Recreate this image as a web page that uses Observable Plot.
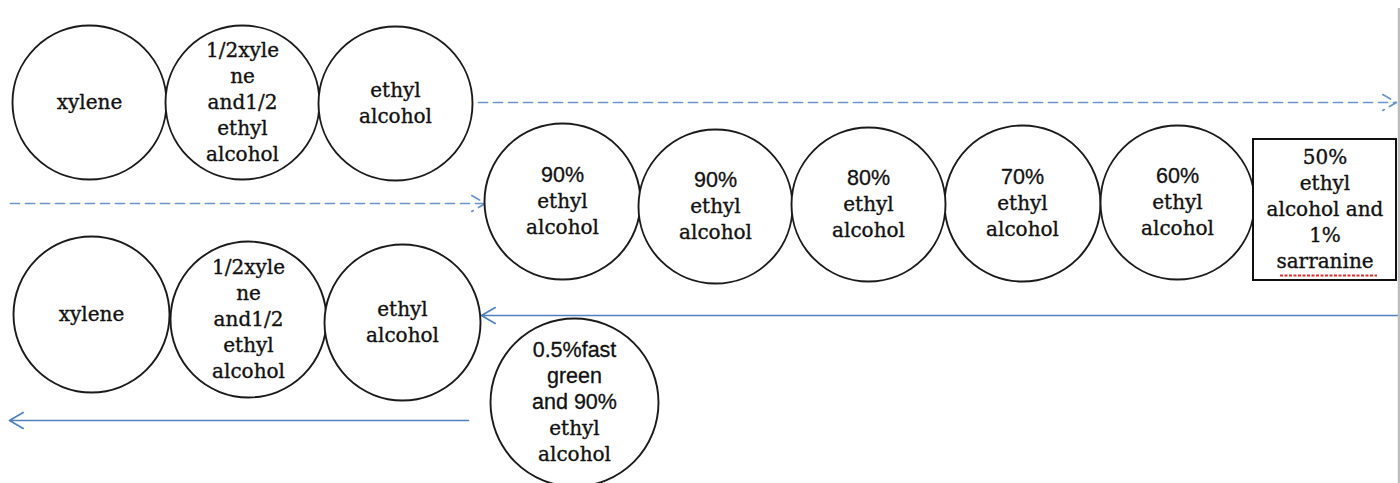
<!DOCTYPE html>
<html>
<head>
<meta charset="utf-8">
<script src="https://cdn.jsdelivr.net/npm/d3@7"></script>
<script src="https://cdn.jsdelivr.net/npm/@observablehq/plot@0.6"></script>
<style>
  html, body { margin: 0; padding: 0; background: #fff; }
  #chart svg { display: block; background: #fff; }
</style>
</head>
<body>
<div id="chart"></div>
<script>
// ---- Step labels (content) ----
const topLabels = ["xylene", "1/2xyle\nne\nand1/2\nethyl\nalcohol", "ethyl\nalcohol"];
const middleLabels = ["90%\nethyl\nalcohol", "90%\nethyl\nalcohol", "80%\nethyl\nalcohol", "70%\nethyl\nalcohol", "60%\nethyl\nalcohol"];
const boxLabels = ["50%\nethyl\nalcohol and\n1%\nsarranine"];
const bottomLabels = ["xylene", "1/2xyle\nne\nand1/2\nethyl\nalcohol", "ethyl\nalcohol", "0.5%fast\ngreen\nand 90%\nethyl\nalcohol"];
const sansLines = ["90%", "80%", "70%", "60%", "0.5%fast", "green", "and 90%"];

// ---- Layout (diagram units) ----
const topX = [89, 242, 395], topY = [102, 102, 103], topR = [77, 77, 77];
const middleX = [562, 715, 868, 1022, 1177], middleY = [201, 206, 204, 203, 202], middleR = [78, 77, 77, 78, 77];
const boxX1 = [1253], boxX2 = [1396], boxY1 = [139], boxY2 = [280];
const bottomX = [91, 248, 402, 574], bottomY = [314, 319, 322, 402], bottomR = [78, 78, 78, 84];
const arrowsDashed = [{x1: 478, y1: 102, x2: 1396, y2: 102}, {x1: 10, y1: 203, x2: 485, y2: 203}];
const arrowsSolid = [{x1: 1398, y1: 315, x2: 481, y2: 315}, {x1: 468, y1: 420, x2: 9, y2: 420}];
const lineStep = 26;

const circles = [
  ...topLabels.map((t, i) => ({label: t, x: topX[i], y: topY[i], r: topR[i]})),
  ...middleLabels.map((t, i) => ({label: t, x: middleX[i], y: middleY[i], r: middleR[i]})),
  ...bottomLabels.map((t, i) => ({label: t, x: bottomX[i], y: bottomY[i], r: bottomR[i]}))
];
const boxes = boxLabels.map((t, i) => ({label: t, x1: boxX1[i], x2: boxX2[i], y1: boxY1[i], y2: boxY2[i], x: (boxX1[i] + boxX2[i]) / 2, y: (boxY1[i] + boxY2[i]) / 2}));

const lines = [];
for (const n of [...circles, ...boxes]) {
  const parts = n.label.split("\n");
  parts.forEach((p, i) => lines.push({text: p, x: n.x, y: n.y + (i - (parts.length - 1) / 2) * lineStep, sans: sansLines.includes(p)}));
}

const chart = Plot.plot({
  width: 1400,
  height: 483,
  margin: 0,
  x: {domain: [0, 1400], range: [0, 1400], axis: null},
  y: {domain: [0, 483], range: [0, 483], axis: null},
  r: {type: "identity"},
  marks: [
    Plot.arrow(arrowsDashed, {x1: "x1", y1: "y1", x2: "x2", y2: "y2", stroke: "#6b94cc", strokeWidth: 1.7, strokeDasharray: "9,6", headLength: 14, headAngle: 60}),
    Plot.arrow(arrowsSolid, {x1: "x1", y1: "y1", x2: "x2", y2: "y2", stroke: "#4f81bd", strokeWidth: 1.7, headLength: 14, headAngle: 60}),
    Plot.dot(circles, {x: "x", y: "y", r: "r", stroke: "#1a1a1a", strokeWidth: 1.9, fill: "white"}),
    Plot.rect(boxes, {x1: "x1", x2: "x2", y1: "y1", y2: "y2", stroke: "#111", strokeWidth: 2, fill: "white"}),
    Plot.ruleY([275], {x1: 1280, x2: 1377, stroke: "#e03030", strokeWidth: 2, strokeDasharray: "3,1.5"}),
    Plot.ruleX([1398.5], {y1: 8, y2: 483, stroke: "#bdbdbd", strokeWidth: 2.5}),
    Plot.text(lines.filter(d => !d.sans), {x: "x", y: "y", text: "text", fontFamily: "DejaVu Serif", fontSize: 20, fill: "#111", stroke: "#111", strokeWidth: 0.35}),
    Plot.text(lines.filter(d => d.sans), {x: "x", y: "y", text: "text", fontFamily: "Liberation Sans", fontSize: 21.5, fill: "#111", stroke: "#111", strokeWidth: 0.3})
  ]
});
document.getElementById("chart").append(chart);
</script>
</body>
</html>
